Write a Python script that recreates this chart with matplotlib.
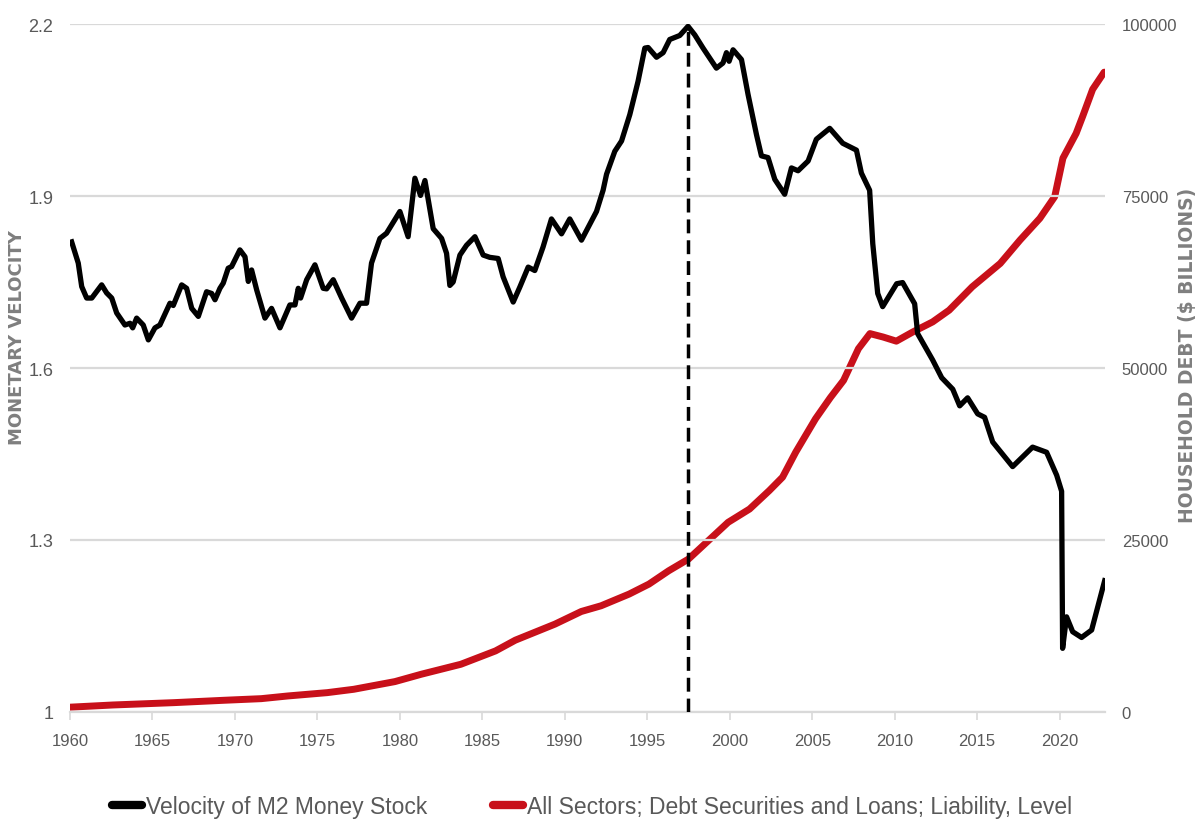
import numpy as np
import matplotlib
matplotlib.use("Agg")
import matplotlib.pyplot as plt
from matplotlib import font_manager
from matplotlib.lines import Line2D

# ---------------- data ----------------
velocity_years = [
    1960.10, 1960.50, 1960.71, 1961.01, 1961.32, 1961.92, 1962.22, 1962.53, 1962.83, 1963.33,
    1963.64, 1963.80, 1964.04, 1964.44, 1964.75, 1965.15, 1965.45, 1966.06, 1966.26, 1966.77,
    1967.07, 1967.38, 1967.78, 1968.28, 1968.59, 1968.79, 1969.09, 1969.29, 1969.59, 1969.80,
    1970.30, 1970.61, 1970.81, 1971.01, 1971.32, 1971.82, 1972.22, 1972.73, 1973.33, 1973.64,
    1973.84, 1973.98, 1974.35, 1974.85, 1975.35, 1975.56, 1975.96, 1976.47, 1977.07, 1977.58,
    1977.98, 1978.28, 1978.79, 1979.19, 1980.00, 1980.50, 1980.91, 1981.25, 1981.52, 1982.02,
    1982.53, 1982.83, 1983.03, 1983.23, 1983.64, 1984.04, 1984.55, 1985.05, 1985.45, 1985.96,
    1986.26, 1986.87, 1987.27, 1987.78, 1988.18, 1988.68, 1989.19, 1989.80, 1990.30, 1991.01,
    1991.92, 1992.32, 1992.53, 1993.03, 1993.44, 1993.94, 1994.44, 1994.85, 1995.05, 1995.56,
    1995.96, 1996.36, 1996.97, 1997.47, 1997.88, 1998.38, 1999.19, 1999.59, 1999.80, 1999.96,
    2000.20, 2000.71, 2001.11, 2001.62, 2001.92, 2002.32, 2002.73, 2003.33, 2003.74, 2004.14,
    2004.75, 2005.25, 2006.06, 2006.85, 2007.68, 2007.98, 2008.48, 2008.67, 2008.97, 2009.27,
    2010.12, 2010.48, 2011.21, 2011.39, 2012.30, 2012.85, 2013.52, 2013.94, 2014.42, 2015.03,
    2015.45, 2015.94, 2017.15, 2018.36, 2019.21, 2019.82, 2020.12, 2020.18, 2020.42, 2020.79,
    2021.33, 2021.94, 2022.73,
]
velocity_m2 = [
    1.820, 1.783, 1.742, 1.722, 1.722, 1.745, 1.731, 1.722, 1.696, 1.675,
    1.678, 1.670, 1.687, 1.675, 1.649, 1.670, 1.675, 1.713, 1.709, 1.745,
    1.739, 1.704, 1.690, 1.733, 1.730, 1.719, 1.739, 1.748, 1.774, 1.777,
    1.806, 1.794, 1.751, 1.771, 1.736, 1.687, 1.704, 1.670, 1.710, 1.710,
    1.739, 1.722, 1.754, 1.780, 1.739, 1.738, 1.754, 1.722, 1.687, 1.713,
    1.713, 1.783, 1.826, 1.835, 1.873, 1.829, 1.931, 1.901, 1.927, 1.843,
    1.826, 1.800, 1.744, 1.750, 1.797, 1.814, 1.829, 1.797, 1.793, 1.791,
    1.759, 1.715, 1.741, 1.776, 1.770, 1.811, 1.860, 1.834, 1.860, 1.823,
    1.873, 1.910, 1.938, 1.978, 1.996, 2.042, 2.100, 2.158, 2.159, 2.142,
    2.150, 2.173, 2.180, 2.196, 2.181, 2.158, 2.123, 2.132, 2.150, 2.135,
    2.155, 2.138, 2.077, 2.007, 1.970, 1.967, 1.929, 1.903, 1.949, 1.944,
    1.961, 1.999, 2.018, 1.992, 1.980, 1.940, 1.910, 1.817, 1.730, 1.707,
    1.747, 1.749, 1.712, 1.660, 1.614, 1.583, 1.563, 1.534, 1.548, 1.520,
    1.514, 1.471, 1.428, 1.462, 1.453, 1.413, 1.385, 1.111, 1.166, 1.140,
    1.130, 1.143, 1.229,
]

debt_years = [
    1960.0, 1962.6, 1966.3, 1969.3, 1971.6, 1973.2, 1975.6, 1977.2, 1979.7, 1981.3,
    1983.7, 1985.8, 1987.0, 1989.4, 1991.0, 1992.2, 1993.9, 1995.1, 1996.3, 1997.5,
    1998.7, 1999.9, 2001.2, 2002.4, 2003.2, 2004.0, 2005.2, 2006.1, 2006.9, 2007.8,
    2008.5, 2009.3, 2010.1, 2011.1, 2012.3, 2013.3, 2014.7, 2016.4, 2017.6, 2018.8,
    2019.7, 2020.2, 2021.0, 2021.4, 2022.0, 2022.7,
]
debt_level = [
    700, 1020, 1360, 1700, 1940, 2330, 2815, 3300, 4420, 5490,
    6940, 8880, 10440, 12770, 14610, 15440, 17140, 18590, 20530, 22230,
    24900, 27570, 29500, 32190, 34130, 37770, 42620, 45700, 48200, 52800,
    55000, 54500, 53900, 55240, 56700, 58400, 61800, 65200, 68600, 71750,
    74900, 80500, 84100, 86600, 90500, 93000,
]

year_ticks = list(range(1960, 2021, 5))
velocity_ticks = [1.0, 1.3, 1.6, 1.9, 2.2]
velocity_tick_labels = ["1", "1.3", "1.6", "1.9", "2.2"]
debt_ticks = [0, 25000, 50000, 75000, 100000]

series_labels = ["Velocity of M2 Money Stock",
                 "All Sectors; Debt Securities and Loans; Liability, Level"]
left_label = "MONETARY VELOCITY"
right_label = "HOUSEHOLD DEBT ($ BILLIONS)"

# ---------------- styling ----------------
names = {f.name for f in font_manager.fontManager.ttflist}
narrow = "Liberation Sans Narrow" if "Liberation Sans Narrow" in names else "Liberation Sans"
TEXT = "#595959"
GRID = "#d9d9d9"
BLACK = "#000000"
RED = "#c8101a"

fig = plt.figure(figsize=(12, 8.29), dpi=100)
ax = fig.add_axes([70 / 1200, 1 - 713 / 829, (1105 - 70) / 1200, (713 - 25) / 829])
ax2 = ax.twinx()

ax.set_xlim(1960, 2022.75)
ax.set_ylim(1.0, 2.2)
ax2.set_ylim(0, 100000)

# grid
for v in velocity_ticks:
    ax.axhline(v, color=GRID, lw=1.6, zorder=0)

# lines
ax2.plot(debt_years, debt_level, color=RED, lw=5, solid_capstyle="round", zorder=3)
ax.plot(velocity_years, velocity_m2, color=BLACK, lw=3.8, solid_joinstyle="round", zorder=3)

# dashed marker at peak velocity
vy = np.array(velocity_m2)
ipk = int(np.argmax(vy))
ax.plot([velocity_years[ipk]] * 2, [velocity_ticks[0], vy[ipk]], color=BLACK, lw=2.5,
        ls=(0, (4, 2)), zorder=4)

# put velocity axis on top of debt axis
ax.set_zorder(ax2.get_zorder() + 1)
ax.patch.set_visible(False)

for a in (ax, ax2):
    for s in a.spines.values():
        s.set_visible(False)
ax.spines["bottom"].set_visible(True)
ax.spines["bottom"].set_color(GRID)
ax.spines["bottom"].set_linewidth(1.6)

ax.set_xticks(year_ticks)
ax.set_xticklabels([str(y) for y in year_ticks], fontfamily=narrow, fontsize=12, color=TEXT)
ax.tick_params(axis="x", length=6, width=1.2, color=GRID, pad=9)

ax.set_yticks(velocity_ticks)
ax.set_yticklabels(velocity_tick_labels, fontfamily=narrow, fontsize=13, color=TEXT)
ax.tick_params(axis="y", length=0, pad=12)

ax2.set_yticks(debt_ticks)
ax2.set_yticklabels([str(d) for d in debt_ticks], fontfamily=narrow, fontsize=12, color=TEXT)
ax2.tick_params(axis="y", length=0, pad=12)

fig.text(17 / 1200, 1 - 338 / 829, left_label, rotation=90, ha="center", va="center",
         fontsize=13, fontweight="bold", color="#7f7f7f", fontfamily="DejaVu Sans")
fig.text(1187 / 1200, 1 - 355 / 829, right_label, rotation=90, ha="center", va="center",
         fontsize=13.5, fontweight="bold", color="#7f7f7f", fontfamily="DejaVu Sans")

handles = [Line2D([], [], color=BLACK, lw=6, solid_capstyle="round"),
           Line2D([], [], color=RED, lw=6, solid_capstyle="round")]
leg = fig.legend(handles, series_labels, loc="center", bbox_to_anchor=(592 / 1200, 1 - 808 / 829),
                 ncol=2, frameon=False, handlelength=1.3, handletextpad=0.15, columnspacing=2.9,
                 prop={"family": narrow, "size": 16.5})
for t in leg.get_texts():
    t.set_color(TEXT)

fig.savefig("out.png", dpi=100, facecolor="white")
